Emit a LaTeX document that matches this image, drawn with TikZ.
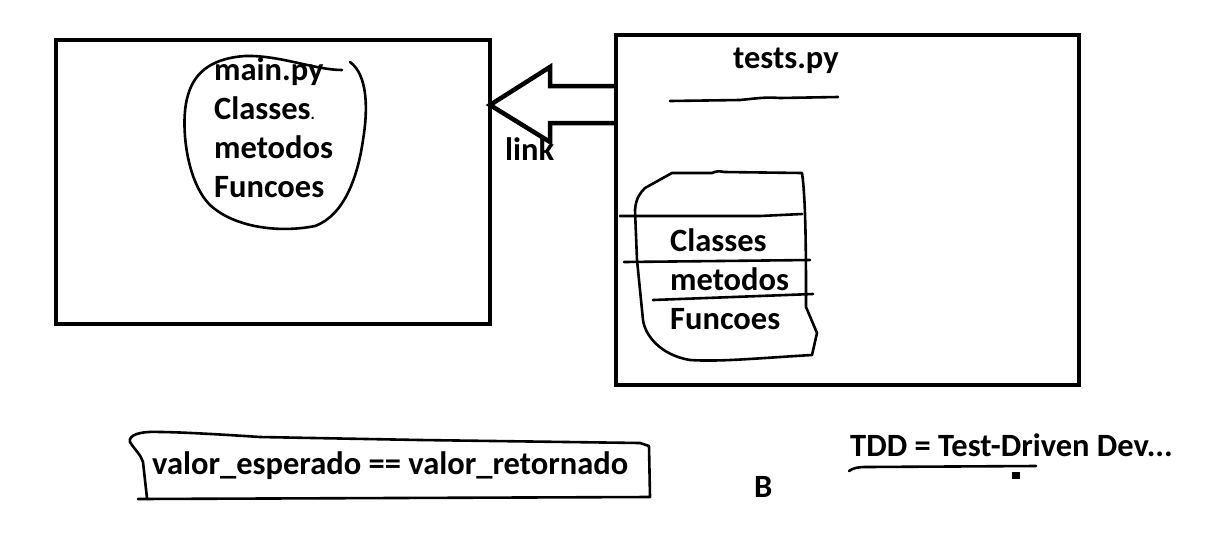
\documentclass[tikz,border=0pt]{standalone}
\usepackage{fontspec}
\setmainfont{Carlito}
\begin{document}
\begin{tikzpicture}[x=1pt,y=-1pt,
  txt/.style={font=\bfseries\fontsize{32.5}{36}\selectfont, inner sep=0pt, anchor=base west},
  frame/.style={line width=4pt},
  hand/.style={line width=2.6pt, line cap=round, line join=round}]
\useasboundingbox[fill=white] (0,0) rectangle (1209,536);
% boxes
\node[frame, draw, minimum width=434pt, minimum height=284pt, anchor=north west] (mainbox) at (54,38) {};
\node[frame, draw, minimum width=463pt, minimum height=350pt, anchor=north west] (testbox) at (614,33) {};
% arrow
\coordinate (tip) at (490,105);
\draw[line width=4.5pt, line join=miter] (testbox.north west |- 0,86) -- (550,86) -- (550,67) -- (tip) -- (550,142) -- (550,123) -- (testbox.north west |- 0,123);
\node[txt] (link) at (505,160) {link};
% left blob
\draw[hand] (350,62) .. controls (368,75) and (368,110) .. (363,140)
  .. controls (358,175) and (345,215) .. (315,226)
  .. controls (280,233) and (235,228) .. (210,205)
  .. controls (185,180) and (180,120) .. (188,95)
  .. controls (195,70) and (215,58) .. (245,56)
  .. controls (280,55) and (315,70) .. (342,70);
\node[txt] (m1) at (214,80) {main.py};
\node[txt] (m2) at (214,119) {Classes\rlap{\fontsize{16}{16}\selectfont.}};
\node[txt] (m3) at (214,158) {metodos};
\node[txt] (m4) at (214,197) {Funcoes};
% right
\node[txt] (tests) at (733,68) {tests.py};
\draw[hand] (670,101) -- (740,100) .. controls (760,98) and (765,97) .. (780,98) -- (838,97);
\draw[hand] (672,173) -- (712,173) .. controls (716,171) and (720,171) .. (724,172) -- (802,173)
  .. controls (806,200) and (806,260) .. (806,307)
  -- (817,333) -- (812,355)
  .. controls (760,358) and (720,362) .. (690,360)
  .. controls (660,355) and (645,335) .. (643,320)
  -- (637,260) -- (635,210)
  .. controls (636,198) and (640,193) .. (645,188) -- cycle;
\draw[hand] (620,216) -- (760,216) -- (802,214);
\draw[hand] (624,262) -- (720,261) -- (810,260);
\draw[hand] (653,300) -- (813,294);
\node[txt] (c1) at (670,251) {Classes};
\node[txt] (c2) at (670,290) {metodos};
\node[txt] (c3) at (670,329) {Funcoes};
% bottom box
\draw[hand] (138,499) -- (650,497) -- (649,446) -- (640,443)
  -- (420,440) -- (260,437) .. controls (200,433) and (170,432) .. (160,432)
  .. controls (140,431) and (128,435) .. (130,442)
  .. controls (135,450) and (141,455) .. (143,462) -- (147,498);
\node[txt] (eq) at (152,474) {valor\_esperado == valor\_retornado};
\node[txt] (b) at (754,497) {B};
\node[txt] (tdd) at (850,456) {TDD = Test-Driven Dev...};
\draw[hand] (849,471) .. controls (853,468) and (858,467) .. (866,467) -- (1036,466);
\fill (1012,472) rectangle (1020,479);
\end{tikzpicture}
\end{document}
